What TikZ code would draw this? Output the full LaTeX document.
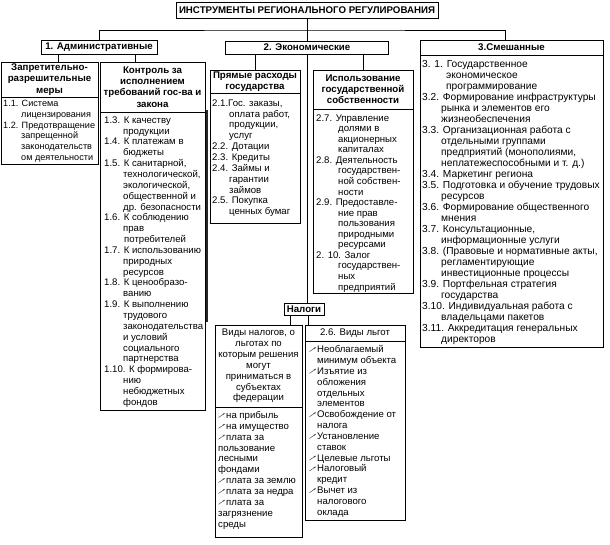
\documentclass[tikz,border=0pt]{standalone}
\usepackage{fontspec}
\setmainfont{Liberation Sans}
\newcommand\mk{\makebox[8pt][l]{\raisebox{0.8pt}{\color{black!75}\rotatebox{35}{\rule{5pt}{0.45pt}\rule[-0.25pt]{2.4pt}{0.95pt}}}}}
\newcommand\ind[1]{\hspace*{#1}}
\begin{document}
\begin{tikzpicture}[x=1pt,y=-1pt,
  ln/.style={line width=0.8pt},
  bx/.style={draw,line width=0.8pt,inner sep=0pt},
  hd/.style={bx,align=center,font=\fontsize{9.7}{11.2}\selectfont\bfseries},
  nb/.style={bx,align=center,font=\fontsize{9.6}{10.85}\selectfont},
  tx/.style={anchor=north west,inner sep=0pt,align=left,font=\fontsize{9.6}{10.85}\selectfont}]
\useasboundingbox[fill=white] (0,0) rectangle (610,545);
% top level
\node[hd,minimum width=262pt,minimum height=16pt] (title) at (307,10) {ИНСТРУМЕНТЫ РЕГИОНАЛЬНОГО РЕГУЛИРОВАНИЯ};
\node[hd,minimum width=116pt,minimum height=14pt] (admin) at (99,47) {1. Административные};
\node[hd,minimum width=163pt,minimum height=13pt] (econ) at (307,47.5) {2. Экономические};
\node[hd,minimum width=183pt,minimum height=15pt] (mixh) at (511.5,47.5) {3.Смешанные};
\node[bx,anchor=north west,minimum width=183pt,minimum height=292pt] (mixc) at (420,55) {};
% administrative
\node[hd,minimum width=97pt,minimum height=35pt] (zaph) at (49.5,79.5) {Запретительно-\\разрешительные\\меры};
\node[bx,anchor=north west,minimum width=97pt,minimum height=67pt] (zapc) at (1,97) {};
\node[hd,minimum width=105pt,minimum height=50pt] (kontrh) at (152.5,87) {Контроль за\\исполнением\\требований гос-ва и\\закона};
\node[bx,anchor=north west,minimum width=105pt,minimum height=298pt] (kontrc) at (100,112) {};
% economic
\node[hd,minimum width=90pt,minimum height=23pt] (pryh) at (255,81.5) {Прямые расходы\\государства};
\node[bx,anchor=north west,minimum width=90pt,minimum height=130pt] (pryc) at (210,93) {};
\node[hd,minimum width=100pt,minimum height=39pt] (ispolh) at (363,89.5) {Использование\\государственной\\собственности};
\node[bx,anchor=north west,minimum width=100pt,minimum height=184pt] (ispolc) at (313,109) {};
\node[hd,minimum width=40pt,minimum height=12pt] (nalogi) at (304,309) {Налоги};
\node[nb,minimum width=87pt,minimum height=82pt] (vidh) at (258.5,366) {Виды налогов, о\\льготах по\\которым решения\\могут\\приниматься в\\субъектах\\федерации};
\node[bx,anchor=north west,minimum width=87pt,minimum height=130pt] (vidc) at (215,407) {};
\node[nb,minimum width=100pt,minimum height=16pt] (lgoth) at (355,333) {2.6. Виды льгот};
\node[bx,anchor=north west,minimum width=100pt,minimum height=179pt] (lgotc) at (305,341) {};
% connectors
\coordinate (bus) at (307,30);
\draw[ln] (title.south) -- (econ.north);
\draw[ln] (admin.north) |- (bus) -| ([xshift=-6.5pt]mixh.north);
\draw[ln] ([xshift=-41pt]admin.south) -- ([xshift=-41pt]admin.south |- zaph.north);
\draw[ln] ([xshift=36pt]admin.south) -- ([xshift=36pt]admin.south |- kontrh.north);
\draw[ln] (pryh.north |- econ.south) -- (pryh.north);
\draw[ln] (ispolh.north |- econ.south) -- (ispolh.north);
\draw[ln] (econ.south) -- (econ.south |- nalogi.north);
\draw[ln] ([xshift=-14pt]nalogi.south) -- ([xshift=-14pt]nalogi.south |- vidh.north);
\draw[ln] ([xshift=4pt]nalogi.south) -- ([xshift=4pt]nalogi.south |- lgoth.north);
% heavy edge beside the control column
\coordinate (barA) at (207.3,110);
\coordinate (barB) at (207.3,322);
\draw[line width=2pt,black!85] (barA) -- (barB);
% texts
\node[tx,font=\fontsize{9.1}{10.7}\selectfont] (zapt) at (3,100.3) {1.1. Система\\\ind{18pt}лицензирования\\1.2. Предотвращение\\\ind{18pt}запрещенной\\\ind{18pt}законодательств\\\ind{18pt}ом деятельности};
\node[tx] (kontrt) at (104,116.3) {1.3. К качеству\\\ind{19pt}продукции\\1.4. К платежам в\\\ind{19pt}бюджеты\\1.5. К санитарной,\\\ind{19pt}технологической,\\\ind{19pt}экологической,\\\ind{19pt}общественной и\\\ind{19pt}др. безопасности\\1.6. К соблюдению\\\ind{19pt}прав\\\ind{20pt}потребителей\\1.7. К использованию\\\ind{19pt}природных\\\ind{19pt}ресурсов\\1.8. К ценообразо-\\\ind{19pt}ванию\\1.9. К выполнению\\\ind{19pt}трудового\\\ind{19pt}законодательства\\\ind{19pt}и условий\\\ind{19pt}социального\\\ind{19pt}партнерства\\1.10. К формирова-\\\ind{19pt}нию\\\ind{19pt}небюджетных\\\ind{19pt}фондов};
\node[tx] (pryt) at (212,99.3) {2.1.Гос. заказы,\\\ind{17pt}оплата работ,\\\ind{17pt}продукции,\\\ind{17pt}услуг\\2.2. Дотации\\2.3. Кредиты\\2.4. Займы и\\\ind{17pt}гарантии\\\ind{17pt}займов\\2.5. Покупка\\\ind{17pt}ценных бумаг};
\node[tx,font=\fontsize{9.6}{10.55}\selectfont] (ispolt) at (316,114.3) {2.7. Управление\\\ind{22pt}долями в\\\ind{22pt}акционерных\\\ind{22pt}капиталах\\2.8. Деятельность\\\ind{22pt}государствен-\\\ind{22pt}ной собствен-\\\ind{22pt}ности\\2.9. Предоставле-\\\ind{22pt}ние прав\\\ind{22pt}пользования\\\ind{22pt}природными\\\ind{22pt}ресурсами\\2. 10. Залог\\\ind{22pt}государствен-\\\ind{22pt}ных\\\ind{22pt}предприятий};
\node[tx,font=\fontsize{10.2}{11}\selectfont] (mixt) at (422,60.3) {3. 1. Государственное\\\ind{24pt}экономическое\\\ind{24pt}программирование\\3.2. Формирование инфраструктуры\\\ind{19pt}рынка и элементов его\\\ind{19pt}жизнеобеспечения\\3.3. Организационная работа с\\\ind{19pt}отдельными группами\\\ind{19pt}предприятий (монополиями,\\\ind{19pt}неплатежеспособными и т. д.)\\3.4. Маркетинг региона\\3.5. Подготовка и обучение трудовых\\\ind{19pt}ресурсов\\3.6. Формирование общественного\\\ind{19pt}мнения\\3.7. Консультационные,\\\ind{19pt}информационные услуги\\3.8. (Правовые и нормативные акты,\\\ind{19pt}регламентирующие\\\ind{19pt}инвестиционные процессы\\3.9. Портфельная стратегия\\\ind{19pt}государства\\3.10. Индивидуальная работа с\\\ind{19pt}владельцами пакетов\\3.11. Аккредитация генеральных\\\ind{19pt}директоров};
\node[tx] (vidt) at (218,411.3) {\mk на прибыль\\\mk на имущество\\\mk плата за\\пользование\\лесными\\фондами\\\mk плата за землю\\\mk плата за недра\\\mk плата за\\загрязнение\\среды};
\node[tx] (lgott) at (309,345.3) {\mk Необлагаемый\\\ind{8pt}минимум объекта\\\mk Изъятие из\\\ind{8pt}обложения\\\ind{8pt}отдельных\\\ind{8pt}элементов\\\mk Освобождение от\\\ind{8pt}налога\\\mk Установление\\\ind{8pt}ставок\\\mk Целевые льготы\\\mk Налоговый\\\ind{8pt}кредит\\\mk Вычет из\\\ind{8pt}налогового\\\ind{8pt}оклада};
\end{tikzpicture}
\end{document}
